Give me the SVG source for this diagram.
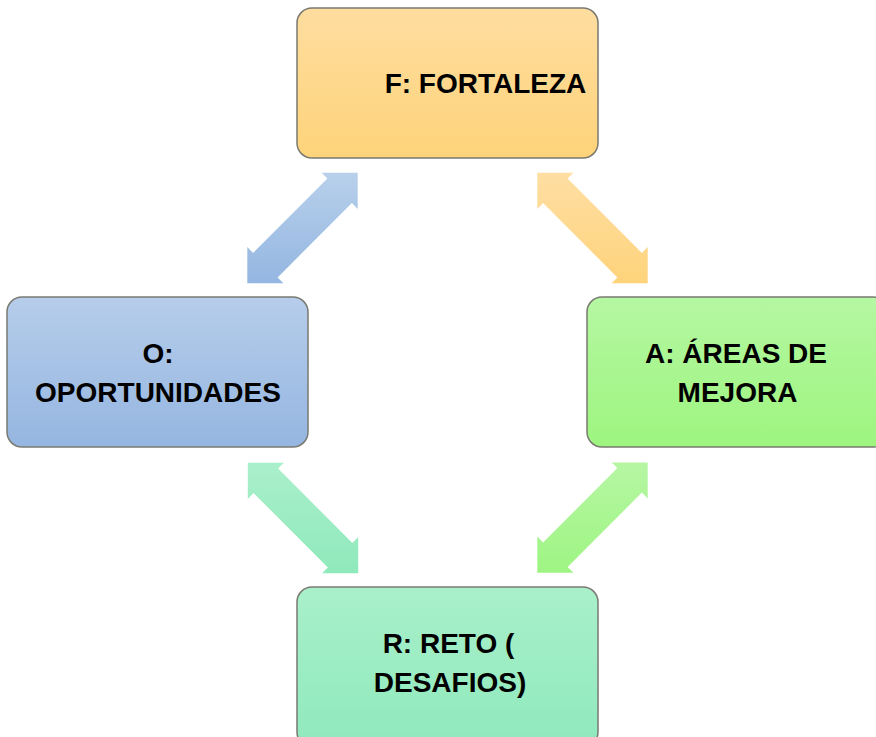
<svg xmlns="http://www.w3.org/2000/svg" width="876" height="737" viewBox="0 0 876 737">
<defs>
<linearGradient id="gF" x1="0" y1="0" x2="0" y2="1"><stop offset="0" stop-color="#fedd9f"/><stop offset="1" stop-color="#fed37a"/></linearGradient>
<linearGradient id="gO" x1="0" y1="0" x2="0" y2="1"><stop offset="0" stop-color="#b6cdea"/><stop offset="1" stop-color="#95b6e1"/></linearGradient>
<linearGradient id="gA" x1="0" y1="0" x2="0" y2="1"><stop offset="0" stop-color="#b5f7a2"/><stop offset="1" stop-color="#9df57f"/></linearGradient>
<linearGradient id="gR" x1="0" y1="0" x2="0" y2="1"><stop offset="0" stop-color="#a9f0ca"/><stop offset="1" stop-color="#8fe9bc"/></linearGradient>
<linearGradient id="aO" x1="0" y1="0" x2="0" y2="1"><stop offset="0" stop-color="#b8d0eb"/><stop offset="1" stop-color="#94b6e1"/></linearGradient>
<linearGradient id="aF" x1="0" y1="0" x2="0" y2="1"><stop offset="0" stop-color="#fedea3"/><stop offset="1" stop-color="#fed37b"/></linearGradient>
<linearGradient id="aR" x1="0" y1="0" x2="0" y2="1"><stop offset="0" stop-color="#aaefcb"/><stop offset="1" stop-color="#8fe9bb"/></linearGradient>
<linearGradient id="aA" x1="0" y1="0" x2="0" y2="1"><stop offset="0" stop-color="#b6f6a3"/><stop offset="1" stop-color="#9ef583"/></linearGradient>
</defs>
<style>
.box{stroke:#7a7a72;stroke-width:1.5}
.t{font-family:"Liberation Sans",Arial,sans-serif;font-weight:bold;font-size:28px;fill:#000;text-anchor:middle}
</style>
<rect width="876" height="737" fill="#ffffff"/>
<g id="connectors">
<polygon id="arrow-F-O" fill="url(#aO)" points="357.7,172.8 321.6,172.8 327.4,178.6 253.1,252.9 247.3,247.1 247.3,283.2 283.4,283.2 277.6,277.4 351.9,203.1 357.7,208.9"/>
<polygon id="arrow-F-A" fill="url(#aF)" points="647.7,283.2 647.7,247.1 641.9,252.9 567.6,178.6 573.4,172.8 537.3,172.8 537.3,208.9 543.1,203.1 617.4,277.4 611.6,283.2"/>
<polygon id="arrow-O-R" fill="url(#aR)" points="358.2,573.2 358.2,537.1 352.4,542.9 278.1,468.6 283.9,462.8 247.8,462.8 247.8,498.9 253.6,493.1 327.9,567.4 322.1,573.2"/>
<polygon id="arrow-A-R" fill="url(#aA)" points="647.7,462.4 611.6,462.4 617.4,468.1 543.1,542.4 537.3,536.6 537.3,572.7 573.4,572.7 567.6,566.9 641.9,492.6 647.7,498.4"/>
</g>
<g id="node-F"><rect class="box" x="297" y="8" width="301" height="150" rx="15" fill="url(#gF)"/><text class="t" x="485.5" y="93">F: FORTALEZA</text></g>
<g id="node-O"><rect class="box" x="7" y="297" width="301" height="150" rx="15" fill="url(#gO)"/><text class="t" x="158" y="363">O:</text><text class="t" x="158" y="402">OPORTUNIDADES</text></g>
<g id="node-A"><rect class="box" x="587" y="297" width="301" height="150" rx="15" fill="url(#gA)"/><text class="t" x="736" y="363">A: ÁREAS DE</text><text class="t" x="737.5" y="402">MEJORA</text></g>
<g id="node-R"><rect class="box" x="297" y="587" width="301" height="160" rx="15" fill="url(#gR)"/><text class="t" x="448.5" y="653">R: RETO (</text><text class="t" x="450" y="692">DESAFIOS)</text></g>
</svg>
